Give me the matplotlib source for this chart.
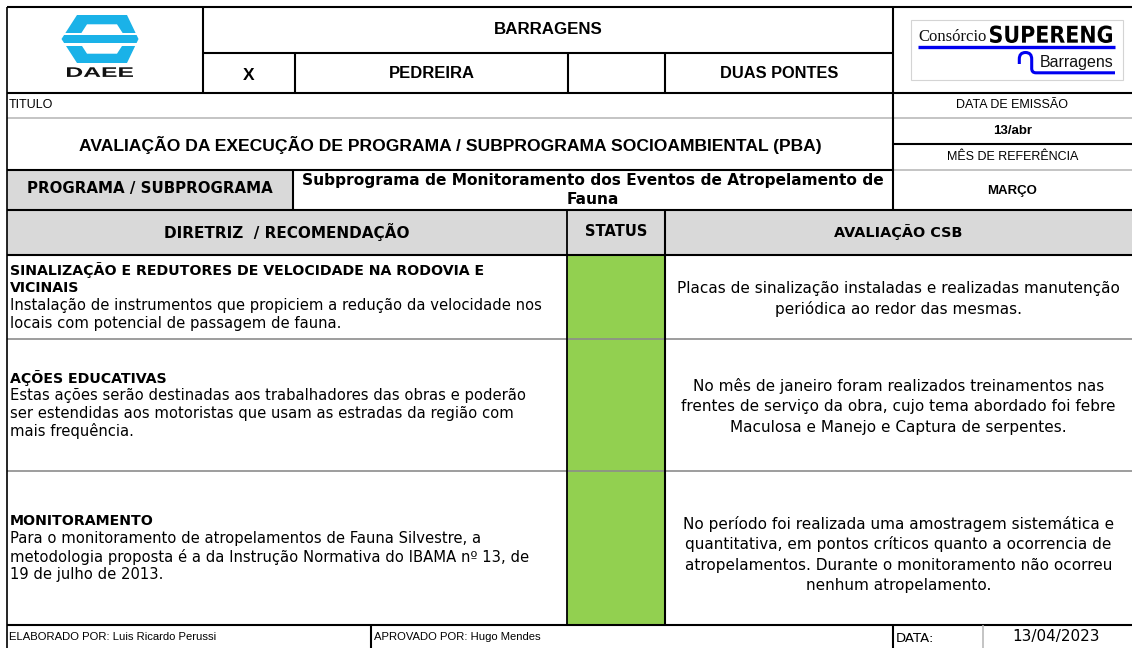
import matplotlib
matplotlib.use("Agg")
import matplotlib.pyplot as plt
from matplotlib.patches import Rectangle, Polygon, PathPatch
from matplotlib.path import Path
from matplotlib.textpath import TextPath
from matplotlib.font_manager import FontProperties
from matplotlib.transforms import Affine2D

# ---------------- data (texts of the form) ----------------
project_name = "BARRAGENS"
site_marks = ["X", ""]
site_names = ["PEDREIRA", "DUAS PONTES"]
title_label = "TITULO"
doc_title = "AVALIAÇÃO DA EXECUÇÃO DE PROGRAMA / SUBPROGRAMA SOCIOAMBIENTAL (PBA)"
issue_label = "DATA DE EMISSÃO"
issue_date = "13/abr"
ref_label = "MÊS DE REFERÊNCIA"
ref_month = "MARÇO"
program_label = "PROGRAMA / SUBPROGRAMA"
program_name = ["Subprograma de Monitoramento dos Eventos de Atropelamento de", "Fauna"]
col_headers = ["DIRETRIZ  / RECOMENDAÇÃO", "STATUS", "AVALIAÇÃO CSB"]
row_titles = [
    ["SINALIZAÇÃO E REDUTORES DE VELOCIDADE NA RODOVIA E", "VICINAIS"],
    ["AÇÕES EDUCATIVAS"],
    ["MONITORAMENTO"],
]
row_bodies = [
    ["Instalação de instrumentos que propiciem a redução da velocidade nos",
     "locais com potencial de passagem de fauna."],
    ["Estas ações serão destinadas aos trabalhadores das obras e poderão",
     "ser estendidas aos motoristas que usam as estradas da região com",
     "mais frequência."],
    ["Para o monitoramento de atropelamentos de Fauna Silvestre, a",
     "metodologia proposta é a da Instrução Normativa do IBAMA nº 13, de",
     "19 de julho de 2013."],
]
row_status = ["conforme", "conforme", "conforme"]
row_eval = [
    ["Placas de sinalização instaladas e realizadas manutenção",
     "periódica ao redor das mesmas."],
    ["No mês de janeiro foram realizados treinamentos nas",
     "frentes de serviço da obra, cujo tema abordado foi febre",
     "Maculosa e Manejo e Captura de serpentes."],
    ["No período foi realizada uma amostragem sistemática e",
     "quantitativa, em pontos críticos quanto a ocorrencia de",
     "atropelamentos. Durante o monitoramento não ocorreu",
     "nenhum atropelamento."],
]
footer_prepared = "ELABORADO POR: Luis Ricardo Perussi"
footer_approved = "APROVADO POR: Hugo Mendes"
footer_date_label = "DATA:"
footer_date = "13/04/2023"
logo_left_text = "DAEE"
logo_right_texts = ["Consórcio", "SUPERENG", "Barragens"]

# ---------------- layout / style ----------------
W, H = 1132, 648
status_colors = {"conforme": "#92d050"}
GRAY_FILL = "#d9d9d9"
LIGHT = "#b4b4b4"
MID = "#8c8c8c"
ARIAL = "Liberation Sans"
VERD = "DejaVu Sans"
DAEE_BLUE = "#1ab2e8"
SUP_BLUE = "#0000f0"

fig = plt.figure(figsize=(W / 100, H / 100), dpi=100)
ax = fig.add_axes([0, 0, 1, 1])
ax.set_xlim(0, W)
ax.set_ylim(H, 0)
ax.axis("off")

L, R = 7, W
x_hdr = [203, 295, 568, 665, 893]
x_prog = 293
x_stat0, x_stat1 = 567, 665
y_top, y_mid, y_hdr = 6.5, 52.5, 93
y_t1, y_t2, y_t3 = 118, 144, 169.5
y_prog = 210
y_colh = 254.5
row_edges = [254.5, 339, 470.5, 625]
eval_shift = [2, 2, 7]
x_foot = [371, 893, 983]


def hline(y, x0, x1, color="black", lw=1.5, z=5):
    ax.plot([x0, x1], [y, y], color=color, lw=lw, solid_capstyle="butt", zorder=z)


def vline(x, y0, y1, color="black", lw=1.5, z=5):
    ax.plot([x, x], [y0, y1], color=color, lw=lw, solid_capstyle="butt", zorder=z)


def txt(x, y, s, size, family=VERD, weight="normal", ha="center", va="center", color="black", **kw):
    ax.text(x, y, s, fontsize=size, family=family, fontweight=weight, ha=ha, va=va,
            color=color, zorder=10, **kw)


def fitted_text(s, x0, y0, x1, y1, prop, color):
    tp = TextPath((0, 0), s, size=1, prop=prop)
    bb = tp.get_extents()
    tr = (Affine2D().translate(-bb.x0, -bb.y0)
          .scale((x1 - x0) / bb.width, -(y1 - y0) / bb.height)
          .translate(x0, y1))
    ax.add_patch(PathPatch(tr.transform_path(tp), color=color, lw=0, zorder=10))


# ---------------- fills ----------------
ax.add_patch(Rectangle((L, y_t3), x_prog - L, y_prog - y_t3, color=GRAY_FILL, lw=0, zorder=1))
ax.add_patch(Rectangle((L, y_prog), R - L, y_colh - y_prog, color=GRAY_FILL, lw=0, zorder=1))
for i, st in enumerate(row_status):
    ax.add_patch(Rectangle((x_stat0, row_edges[i]), x_stat1 - x_stat0,
                           row_edges[i + 1] - row_edges[i],
                           color=status_colors[st], lw=0, zorder=1))

# ---------------- grid lines ----------------
hline(y_top, L, R)
hline(y_mid, x_hdr[0], x_hdr[4])
hline(y_hdr, L, R)
hline(y_t1, L, R, color=LIGHT, lw=1.1)
hline(y_t2, x_hdr[4], R)
hline(y_t3, L, x_hdr[4])
hline(y_t3, x_hdr[4], R, color=LIGHT, lw=1.1)
hline(y_prog, L, R)
hline(y_colh, L, R)
for y in row_edges[1:-1]:
    hline(y, L, R, color=MID, lw=1.2)
hline(row_edges[-1], L, R)

vline(L, y_top, H, lw=1.2)
vline(x_hdr[0], y_top, y_hdr)
for x in x_hdr[1:4]:
    vline(x, y_mid, y_hdr)
vline(x_hdr[4], y_top, y_prog)
vline(x_prog, y_t3, y_prog)
vline(x_stat0, y_prog, row_edges[-1], lw=1.3)
vline(x_stat1, y_prog, row_edges[-1])
vline(x_foot[0], row_edges[-1], H)
vline(x_foot[1], row_edges[-1], H)
vline(x_foot[2], row_edges[-1], H, color=LIGHT, lw=1.1)

# ---------------- DAEE logo ----------------
outer = [(77, 15), (127, 15), (138.5, 39), (127, 63), (77, 63), (61.5, 39)]
inner = [(87, 24.3), (117, 24.3), (126.5, 39), (117, 53.7), (87, 53.7), (77.5, 39)]
ax.add_patch(Polygon(outer, closed=True, color=DAEE_BLUE, lw=0, zorder=3))
ax.add_patch(Polygon(inner, closed=True, color="white", lw=0, zorder=4))
ax.add_patch(Rectangle((76, 35.2), 52, 7.8, color=DAEE_BLUE, lw=0, zorder=5))
ax.add_patch(Rectangle((58, 32.6), 84, 2.6, color="white", lw=0, zorder=6))
ax.add_patch(Rectangle((58, 43.0), 84, 2.6, color="white", lw=0, zorder=6))
fitted_text(logo_left_text, 67, 67.3, 133, 76.9,
            FontProperties(family=ARIAL, weight="bold"), "#111111")

# ---------------- SUPERENG logo ----------------
ax.add_patch(Rectangle((911, 20), 212, 60, fill=False, ec="#d4d4d4", lw=0.8, zorder=3))
txt(918, 37, logo_right_texts[0], 12, family="Liberation Serif", ha="left", color="#111111")
fitted_text(logo_right_texts[1], 990, 25.5, 1112, 43,
            FontProperties(family="DejaVu Sans", weight="bold"), "black")
hline(47.3, 918, 1115, color=SUP_BLUE, lw=2.4)
arc = Path([(1019.3, 64), (1019.3, 59), (1019.3, 52.5), (1025.5, 52.5), (1031.7, 52.5),
            (1031.7, 59), (1031.7, 68.5), (1031.7, 72.8), (1036, 72.8), (1115, 72.8)],
           [Path.MOVETO, Path.LINETO, Path.CURVE3, Path.CURVE3, Path.CURVE3, Path.CURVE3,
            Path.LINETO, Path.CURVE3, Path.CURVE3, Path.LINETO])
ax.add_patch(PathPatch(arc, fill=False, ec=SUP_BLUE, lw=2.2, zorder=6))
txt(1040, 62, logo_right_texts[2], 11.5, family=ARIAL, ha="left", color="#111111")

# ---------------- header texts ----------------
txt((x_hdr[0] + x_hdr[4]) / 2, 30, project_name, 12.2, family=ARIAL, weight="bold")
txt((x_hdr[0] + x_hdr[1]) / 2, 75, site_marks[0], 12.5, family=ARIAL, weight="bold")
txt((x_hdr[1] + x_hdr[2]) / 2, 74, site_names[0], 12, family=ARIAL, weight="bold")
txt((x_hdr[2] + x_hdr[3]) / 2, 74, site_marks[1], 12, family=ARIAL, weight="bold")
txt((x_hdr[3] + x_hdr[4]) / 2, 74, site_names[1], 11.8, family=ARIAL, weight="bold")

txt(9, 104.5, title_label, 9, family=ARIAL, ha="left")
txt((L + x_hdr[4]) / 2, 145, doc_title, 12.6, family=ARIAL, weight="bold")
xr = (x_hdr[4] + R) / 2
txt(xr, 104.5, issue_label, 9, family=ARIAL)
txt(xr, 131, issue_date, 9.5, family=ARIAL, weight="bold")
txt(xr, 157, ref_label, 9, family=ARIAL)
txt(xr, 191, ref_month, 9.5, family=ARIAL, weight="bold")

txt((L + x_prog) / 2, 189, program_label, 10.8, weight="bold")
txt((x_prog + x_hdr[4]) / 2, 181, program_name[0], 11.1, weight="bold")
txt((x_prog + x_hdr[4]) / 2, 200, program_name[1], 11.1, weight="bold")

txt((L + x_stat0) / 2, 232, col_headers[0], 11, weight="bold")
txt((x_stat0 + x_stat1) / 2, 232, col_headers[1], 10.5, weight="bold")
txt((x_stat1 + R) / 2, 232, col_headers[2], 10.4, weight="bold")

# ---------------- rows ----------------
LH_L, LH_R = 17.7, 20.8
for i in range(len(row_titles)):
    cy = (row_edges[i] + row_edges[i + 1]) / 2
    lines = [(s, "bold") for s in row_titles[i]] + [(s, "normal") for s in row_bodies[i]]
    y0 = cy - (len(lines) - 1) / 2 * LH_L
    for k, (s, w) in enumerate(lines):
        size = 10.2 if w == "bold" else 10.6
        txt(10, y0 + k * LH_L, s, size, weight=w, ha="left")
    ev = row_eval[i]
    y0 = cy + eval_shift[i] - (len(ev) - 1) / 2 * LH_R
    for k, s in enumerate(ev):
        txt((x_stat1 + R) / 2, y0 + k * LH_R, s, 11)

# ---------------- footer ----------------
txt(9, 637, footer_prepared, 8.1, family=ARIAL, ha="left")
txt(x_foot[0] + 3, 637, footer_approved, 8.1, family=ARIAL, ha="left")
txt(x_foot[1] + 3, 638, footer_date_label, 9.5, ha="left")
txt((x_foot[2] + R) / 2 - 1, 636, footer_date, 11)

fig.savefig("out.png", dpi=100)
